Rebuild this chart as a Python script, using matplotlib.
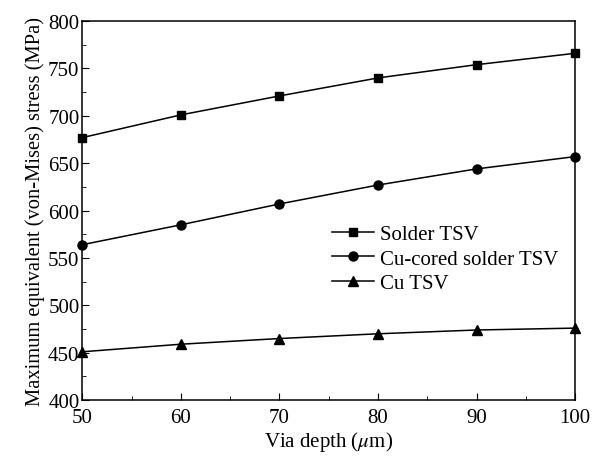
import matplotlib.pyplot as plt
from matplotlib.ticker import MultipleLocator

plt.rcParams['font.family'] = ['Liberation Serif', 'DejaVu Serif']
plt.rcParams['mathtext.fontset'] = 'stix'

# Data
depth = [50, 60, 70, 80, 90, 100]
solder = [677, 701, 721, 740, 754, 766]
cu_cored = [564, 585, 607, 627, 644, 657]
cu = [451, 459, 465, 470, 474, 476]

fig = plt.figure(figsize=(5.96, 4.6), dpi=100)
ax = fig.add_axes([0.138, 0.128, 0.827, 0.824])

ax.plot(depth, solder, color='black', marker='s', markersize=6, linewidth=1.1,
        label='Solder TSV', clip_on=False)
ax.plot(depth, cu_cored, color='black', marker='o', markersize=6.5, linewidth=1.1,
        label='Cu-cored solder TSV', clip_on=False)
ax.plot(depth, cu, color='black', marker='^', markersize=7, linewidth=1.1,
        label='Cu TSV', clip_on=False)

ax.set_xlim(50, 100)
ax.set_ylim(400, 800)
ax.xaxis.set_major_locator(MultipleLocator(10))
ax.xaxis.set_minor_locator(MultipleLocator(5))
ax.yaxis.set_major_locator(MultipleLocator(50))
ax.yaxis.set_minor_locator(MultipleLocator(25))
ax.tick_params(which='both', direction='in', labelsize=15)
ax.tick_params(which='major', length=5, pad=2)
ax.tick_params(which='minor', length=3)
ax.tick_params(axis='x', which='major', pad=6)
for s in ax.spines.values():
    s.set_linewidth(1.1)

ax.set_xlabel(r'Via depth ($\mu$m)', fontsize=15, labelpad=1)
ax.set_ylabel('Maximum equivalent (von-Mises) stress (MPa)', fontsize=14.8, labelpad=2)

ax.legend(loc='upper left', bbox_to_anchor=(0.49, 0.486), frameon=False,
          fontsize=15, handlelength=2.0, handletextpad=0.3, labelspacing=0.25,
          borderaxespad=0)

fig.savefig('out.png', dpi=100)
